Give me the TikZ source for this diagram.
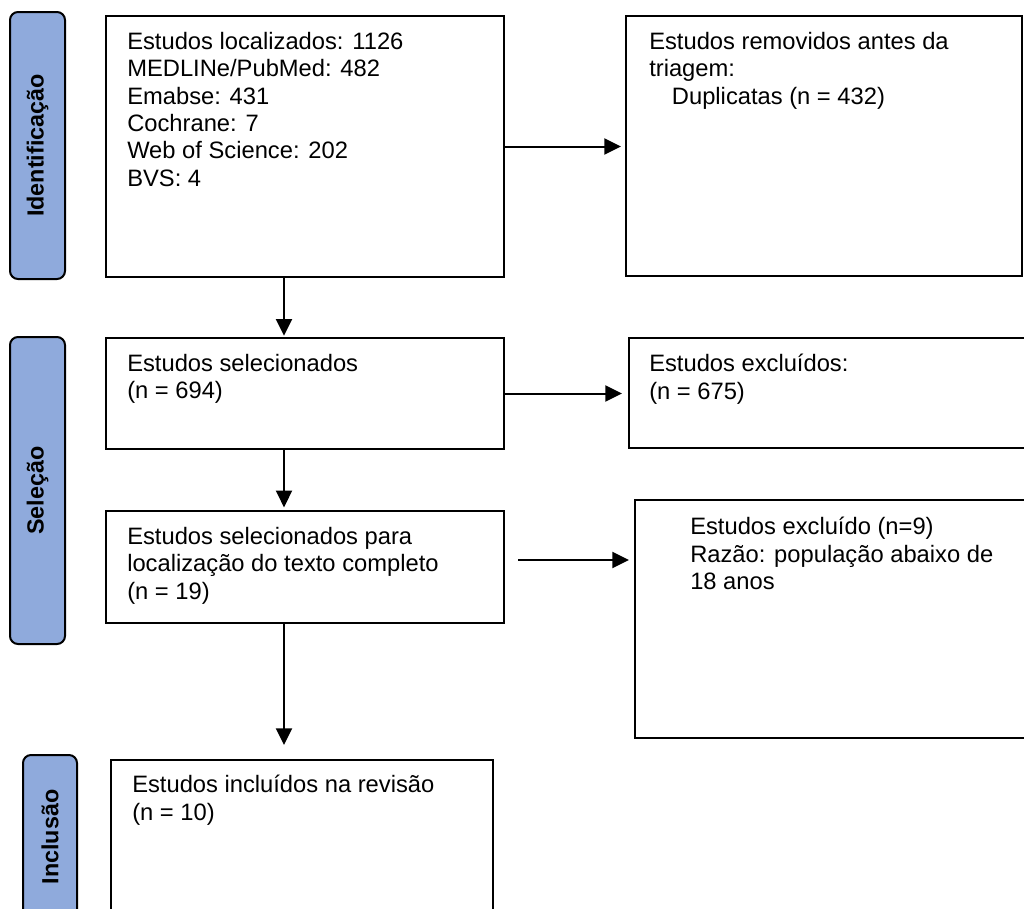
\documentclass[tikz,border=0pt]{standalone}
\usepackage{fontspec}
\setmainfont{Liberation Sans}
\usetikzlibrary{arrows.meta, fit, positioning}
\definecolor{sideblue}{RGB}{143, 170, 220}
\newcommand{\boxfont}{\fontsize{17.8}{20.5}\selectfont\lineskiplimit -20pt\relax}

\begin{document}
\begin{tikzpicture}[
  x=0.75pt, y=-0.75pt,
  box/.style={draw, line width=1.5pt, inner sep=0pt},
  side/.style={draw, line width=1.5pt, fill=sideblue, rounded corners=6pt, inner sep=0pt},
  sidetxt/.style={rotate=90, font=\fontsize{17.5}{20}\selectfont\bfseries},
  txt/.style={anchor=north west, inner sep=0pt, align=left, font=\boxfont},
  arr/.style={-{Triangle[length=12.5pt, width=12pt]}, line width=1.5pt}
]
  \clip (0,0) rectangle (1024,908);
  % fases
  \node[side, fit={(10,12) (65,279)}] (fase1) {};
  \node[side, fit={(10,337) (65,644)}] (fase2) {};
  \node[side, fit={(23,755) (77,919)}] (fase3) {};
  \node[sidetxt] (fase1t) at (fase1) {Identificação};
  \node[sidetxt] (fase2t) at (fase2) {Seleção};
  \node[sidetxt] (fase3t) at (fase3) {Inclusão};

  % caixas
  \node[box, fit={(106,16) (504,277)}] (ident) {};
  \node[box, fit={(626,16) (1022,276)}] (dup) {};
  \node[box, fit={(106,338) (504,449)}] (sel) {};
  \node[box, fit={(629,338) (1030,448)}] (exc1) {};
  \node[box, fit={(106,511) (504,623)}] (full) {};
  \node[box, fit={(635,500) (1030,738)}] (exc2) {};
  \node[box, fit={(111,760) (493,919)}] (incl) {};

  % textos
  \node[txt] (identt) at ([shift={(22,17)}]ident.north west)
    {Estudos localizados: 1126\\MEDLINe/PubMed: 482\\Emabse: 431\\Cochrane: 7\\Web of Science: 202\\BVS: 4};
  \node[txt] (dupt) at ([shift={(24,17)}]dup.north west)
    {Estudos removidos antes da\\triagem:\\\hspace*{17pt}Duplicatas (n = 432)};
  \node[txt] (selt) at ([shift={(22,17)}]sel.north west)
    {Estudos selecionados\\(n = 694)};
  \node[txt] (exc1t) at ([shift={(21,17)}]exc1.north west)
    {Estudos excluídos:\\(n = 675)};
  \node[txt] (fullt) at ([shift={(22,17)}]full.north west)
    {Estudos selecionados para\\localização do texto completo\\(n = 19)};
  \node[txt] (exc2t) at ([shift={(56,18)}]exc2.north west)
    {Estudos excluído (n=9)\\Razão: população abaixo de\\18 anos};
  \node[txt] (inclt) at ([shift={(22,16)}]incl.north west)
    {Estudos incluídos na revisão\\(n = 10)};

  % setas
  \draw[arr, shorten >=3pt] (ident.east) -- (ident.east -| dup.west);
  \draw[arr, shorten >=4.5pt] (sel.east) -- (sel.east -| exc1.west);
  \draw[arr, shorten <=9.75pt, shorten >=3.75pt] ([shift={(0,-7)}]full.east) -- ([shift={(0,-7)}]full.east -| exc2.west);
  \draw[arr, shorten >=1pt] ([shift={(-21,0)}]ident.south) -- ([shift={(-21,0)}]sel.north);
  \draw[arr, shorten >=2pt] ([shift={(-21,0)}]sel.south) -- ([shift={(-21,0)}]full.north);
  \draw[arr, shorten >=10.5pt] ([shift={(-21,0)}]full.south) -- ([shift={(-21,0)}]full.south |- incl.north);
\end{tikzpicture}
\end{document}
